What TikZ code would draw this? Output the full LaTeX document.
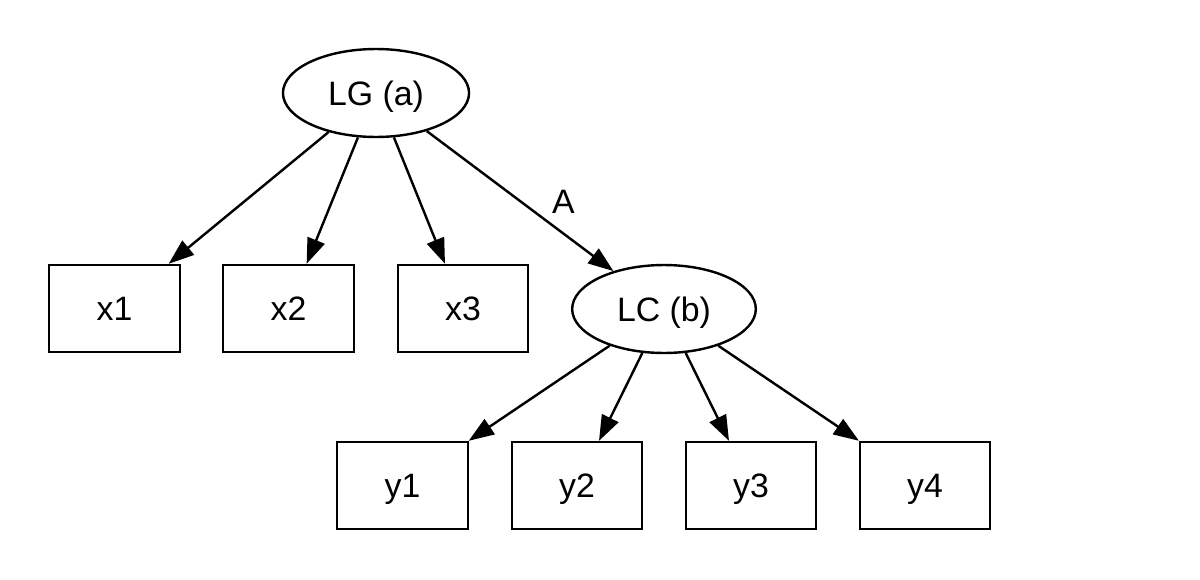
\documentclass[tikz,border=0pt]{standalone}
\usepackage{fontspec}
\setmainfont{Liberation Sans}
\usetikzlibrary{shapes.geometric,arrows.meta}
\begin{document}
\begin{tikzpicture}[x=0.41379pt,y=-0.41379pt,
  every node/.style={font=\fontsize{14pt}{17pt}\selectfont, text height=10pt, text depth=0pt, inner sep=0pt},
  boxnode/.style={draw, line width=1pt, rectangle, minimum width=54pt, minimum height=36pt},
  ellnode/.style={draw, line width=1pt, ellipse, minimum width=77pt, minimum height=36.4pt},
  edge/.style={draw, line width=1pt, -{Triangle[length=10.5pt,width=7.5pt]}},
  lbl/.style={}]
\useasboundingbox (0,0) rectangle (1200,580);
\node[ellnode] (LG) at (376,93) {LG (a)};
\node[boxnode] (x1) at (114.5,308.5) {x1};
\node[boxnode] (x2) at (288.5,308.5) {x2};
\node[boxnode] (x3) at (463,308.5) {x3};
\node[ellnode, minimum width=76pt] (LC) at (664,309) {LC (b)};
\node[boxnode] (y1) at (402.5,485.5) {y1};
\node[boxnode] (y2) at (577,485.5) {y2};
\node[boxnode] (y3) at (751,485.5) {y3};
\node[boxnode] (y4) at (925,485.5) {y4};
\node[lbl] (A) at (563.5,201) {A};
\draw[edge] (LG) -- (x1);
\draw[edge] (LG) -- (x2);
\draw[edge] (LG) -- (x3);
\draw[edge] (LG) -- (LC);
\draw[edge] (LC) -- (y1);
\draw[edge] (LC) -- (y2);
\draw[edge] (LC) -- (y3);
\draw[edge] (LC) -- (y4);
\end{tikzpicture}
\end{document}
